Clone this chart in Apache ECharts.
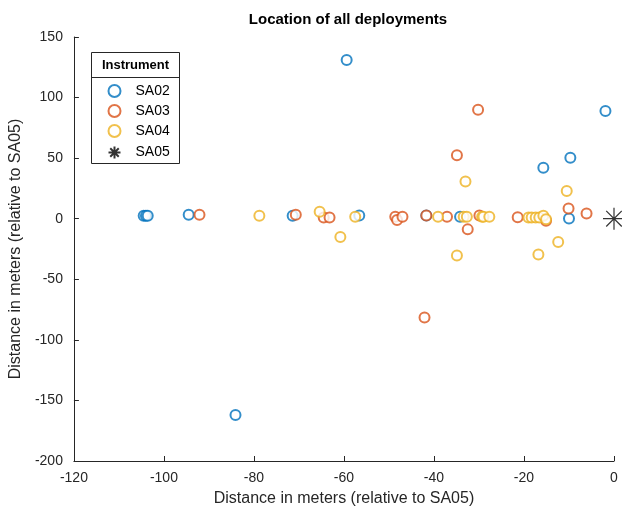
<!DOCTYPE html>
<html>
<head>
<meta charset="utf-8">
<script src="https://cdn.jsdelivr.net/npm/echarts@6/dist/echarts.min.js"></script>
<style>
  html, body { margin: 0; padding: 0; background: #fff; }
  #chart { width: 622px; height: 513px; }
</style>
</head>
<body>
<div id="chart"></div>
<script>
// Deployment offsets in meters, relative to SA05
const sa02X = [-104.5, -104.0, -103.6, -94.5, -71.4, -59.4, -56.6, -84.1, -41.7, -34.2, -15.7, -9.7, -1.9, -10.0];
const sa02Y = [2.5, 2.5, 2.5, 3.3, 2.5, 131, 2.7, -162, 2.7, 1.7, 42, 50.3, 88.9, 0.2];

const sa03X = [-92.1, -70.7, -64.5, -63.2, -48.6, -48.2, -47.0, -41.7, -37.1, -32.5, -30.2, -34.9, -42.1, -29.9, -21.4, -15.1, -10.1, -6.1];
const sa03Y = [3.3, 3.3, 1.0, 1.0, 1.7, -1.0, 1.7, 2.7, 1.7, -8.8, 90, 52.3, -81.5, 2.7, 1.2, -1.6, 8.5, 4.4];

const sa04X = [-78.8, -65.4, -60.8, -57.5, -39.1, -34.9, -33.4, -32.7, -33.0, -29.3, -29.0, -27.7, -19.0, -18.3, -17.4, -16.6, -15.7, -15.1, -10.5, -12.4, -16.8];
const sa04Y = [2.5, 5.8, -15, 1.7, 1.7, -30.3, 1.7, 1.7, 30.8, 1.7, 1.7, 1.7, 1.0, 1.0, 1.0, 1.0, 2.5, -0.5, 22.9, -19.2, -29.5];

const sa05X = [0];
const sa05Y = [0];

const xTicks = { min: -120, max: 0, step: 20 };
const yTicks = { min: -200, max: 150, step: 50 };

const colors = { SA02: '#0072BD', SA03: '#D95319', SA04: '#EDB120', SA05: '#000000' };
const axisColor = '#262626';
const fontFamily = '"Liberation Sans", Arial, Helvetica, sans-serif';

const zip = (xs, ys) => xs.map((x, i) => [x, ys[i]]);

// eight-armed asterisk marker
const asterisk = 'path://M10,0L10,20M0,10L20,10M2.93,2.93L17.07,17.07M2.93,17.07L17.07,2.93';

function circleSeries(name, xs, ys) {
  return {
    name,
    type: 'scatter',
    data: zip(xs, ys),
    symbol: 'emptyCircle',
    symbolSize: 10,
    itemStyle: { color: colors[name], borderColor: colors[name], borderWidth: 1.4 },
    emphasis: { disabled: true },
    clip: false
  };
}

const chart = echarts.init(document.getElementById('chart'), null, { renderer: 'canvas' });

chart.setOption({
  animation: false,
  textStyle: { fontFamily },
  title: {
    text: 'Location of all deployments',
    left: 343,
    textAlign: 'center',
    top: 7,
    textStyle: { fontSize: 15, fontWeight: 'bold', color: '#000', fontFamily }
  },
  grid: { left: 73, right: 8, top: 37, bottom: 52, containLabel: false },
  xAxis: {
    type: 'value',
    min: xTicks.min, max: xTicks.max, interval: xTicks.step,
    name: 'Distance in meters (relative to SA05)',
    nameLocation: 'middle',
    nameGap: 30,
    nameTextStyle: { fontSize: 16, color: axisColor, fontFamily },
    axisLine: { show: true, onZero: false, lineStyle: { color: axisColor, width: 1 } },
    axisTick: { show: true, inside: true, length: 5, lineStyle: { color: axisColor } },
    axisLabel: { fontSize: 14, color: axisColor, margin: 10, fontFamily },
    splitLine: { show: false }
  },
  yAxis: {
    type: 'value',
    min: yTicks.min, max: yTicks.max, interval: yTicks.step,
    name: 'Distance in meters (relative to SA05)',
    nameLocation: 'middle',
    nameGap: 39,
    nameTextStyle: { fontSize: 16, color: axisColor, fontFamily },
    axisLine: { show: true, onZero: false, lineStyle: { color: axisColor, width: 1 } },
    axisTick: { show: true, inside: true, length: 5, lineStyle: { color: axisColor } },
    axisLabel: { fontSize: 14, color: axisColor, margin: 11, fontFamily },
    splitLine: { show: false }
  },
  legend: {
    orient: 'vertical',
    left: 101,
    top: 79,
    padding: 5,
    itemWidth: 32,
    itemHeight: 12,
    itemGap: 6,
    selectedMode: false,
    textStyle: { fontSize: 14, color: '#000', fontFamily },
    data: ['SA02', 'SA03', 'SA04', 'SA05']
  },
  graphic: [
    {
      type: 'rect',
      shape: { x: 91.5, y: 52.5, width: 88, height: 111 },
      style: { fill: '#fff', stroke: axisColor, lineWidth: 1 },
      z: -1, silent: true
    },
    {
      type: 'line',
      shape: { x1: 91.5, y1: 77.5, x2: 179.5, y2: 77.5 },
      style: { stroke: axisColor, lineWidth: 1 },
      silent: true
    },
    {
      type: 'text',
      x: 135.5, y: 65,
      style: {
        text: 'Instrument', fill: '#000', font: 'bold 13px ' + fontFamily,
        textAlign: 'center', textVerticalAlign: 'middle'
      },
      silent: true
    }
  ],
  series: [
    circleSeries('SA02', sa02X, sa02Y),
    circleSeries('SA03', sa03X, sa03Y),
    circleSeries('SA04', sa04X, sa04Y),
    {
      name: 'SA05',
      type: 'scatter',
      data: zip(sa05X, sa05Y),
      symbol: asterisk,
      symbolSize: 22,
      itemStyle: { color: 'none', borderColor: colors.SA05, borderWidth: 1.2 },
      emphasis: { disabled: true },
      clip: false
    }
  ]
});
</script>
</body>
</html>
